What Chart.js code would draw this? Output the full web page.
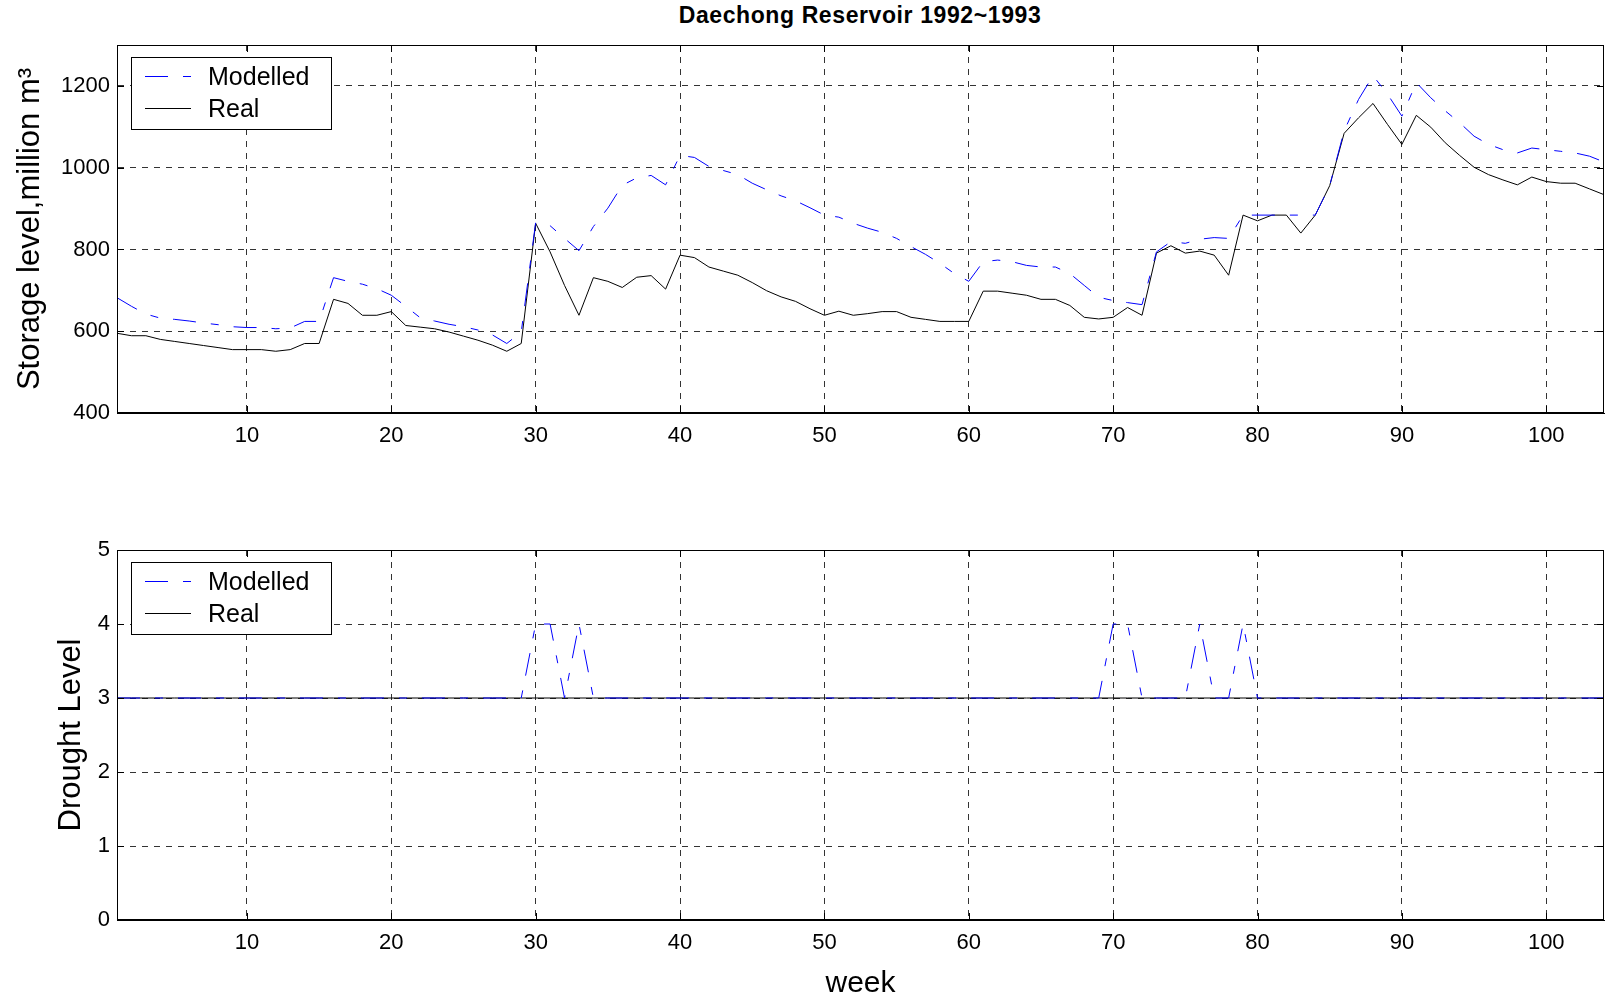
<!DOCTYPE html>
<html>
<head>
<meta charset="utf-8">
<script src="https://cdn.jsdelivr.net/npm/chart.js"></script>
<style>
  body { margin: 0; background: #fff; width: 1606px; height: 997px; overflow: hidden; position: relative; }
  #title { position: absolute; left: 0; top: 2px; width: 1720px; text-align: center;
           font: bold 23px "Liberation Sans", Arial, sans-serif; letter-spacing: 0.6px; color: #000; }
  canvas { position: absolute; left: 0; }
  #top { top: 0; }
  #bottom { top: 460px; }
</style>
</head>
<body>
<div id="title">Daechong Reservoir 1992~1993</div>
<canvas id="top" width="1606" height="460"></canvas>
<canvas id="bottom" width="1606" height="543"></canvas>
<script>
const weeks = [
  1, 2, 3, 4, 5, 6, 7, 8, 9, 10, 11, 12, 13, 14, 15, 16, 17, 18, 19, 20, 21, 22, 23, 24, 25, 26,
  27, 28, 29, 30, 31, 32, 33, 34, 35, 36, 37, 38, 39, 40, 41, 42, 43, 44, 45, 46, 47, 48, 49, 50, 51, 52,
  53, 54, 55, 56, 57, 58, 59, 60, 61, 62, 63, 64, 65, 66, 67, 68, 69, 70, 71, 72, 73, 74, 75, 76, 77, 78,
  79, 80, 81, 82, 83, 84, 85, 86, 87, 88, 89, 90, 91, 92, 93, 94, 95, 96, 97, 98, 99, 100, 101, 102, 103, 104
];

// storage, million m3
const modelledStorage = [
  682, 661, 642, 632, 629, 625, 620, 616, 611, 609, 609, 606, 608, 624, 624, 731, 722, 715, 704, 688, 661, 633, 625, 617, 611, 603,
  591, 570, 598, 866, 858, 827, 797, 856, 901, 957, 975, 981, 958, 1030, 1025, 1003, 993, 983, 962, 946, 931, 919, 902, 884, 879, 864,
  852, 842, 827, 807, 788, 766, 741, 722, 770, 774, 770, 761, 757, 757, 741, 712, 683, 675, 670, 665, 794, 819, 815, 825, 829, 827,
  884, 884, 884, 884, 884, 884, 956, 1090, 1167, 1225, 1180, 1126, 1208, 1171, 1139, 1110, 1077, 1057, 1044, 1036, 1048, 1044, 1040, 1036, 1028, 1014
];
const realStorage = [
  595, 589, 589, 580, 575, 570, 565, 560, 555, 555, 555, 551, 555, 570, 570, 678, 668, 639, 639, 648, 614, 610, 606, 598, 588, 578,
  566, 551, 570, 864, 794, 712, 639, 731, 722, 707, 732, 736, 703, 786, 780, 757, 747, 737, 719, 699, 684, 673, 655, 639, 649, 639,
  643, 648, 648, 634, 629, 624, 624, 624, 698, 698, 693, 688, 678, 678, 663, 634, 630, 634, 658, 639, 791, 809, 791, 796, 786, 737,
  884, 870, 884, 884, 840, 884, 956, 1084, 1122, 1157, 1106, 1057, 1128, 1099, 1061, 1030, 1001, 983, 970, 958, 977, 966, 962, 962, 948, 934
];

// drought level
const modelledDrought = [
  3, 3, 3, 3, 3, 3, 3, 3, 3, 3, 3, 3, 3, 3, 3, 3, 3, 3, 3, 3, 3, 3, 3, 3, 3, 3,
  3, 3, 3, 4, 4, 3, 4, 3, 3, 3, 3, 3, 3, 3, 3, 3, 3, 3, 3, 3, 3, 3, 3, 3, 3, 3,
  3, 3, 3, 3, 3, 3, 3, 3, 3, 3, 3, 3, 3, 3, 3, 3, 3, 4, 4, 3, 3, 3, 3, 4, 3, 3,
  4, 3, 3, 3, 3, 3, 3, 3, 3, 3, 3, 3, 3, 3, 3, 3, 3, 3, 3, 3, 3, 3, 3, 3, 3, 3
];
const realDrought = [
  3, 3, 3, 3, 3, 3, 3, 3, 3, 3, 3, 3, 3, 3, 3, 3, 3, 3, 3, 3, 3, 3, 3, 3, 3, 3,
  3, 3, 3, 3, 3, 3, 3, 3, 3, 3, 3, 3, 3, 3, 3, 3, 3, 3, 3, 3, 3, 3, 3, 3, 3, 3,
  3, 3, 3, 3, 3, 3, 3, 3, 3, 3, 3, 3, 3, 3, 3, 3, 3, 3, 3, 3, 3, 3, 3, 3, 3, 3,
  3, 3, 3, 3, 3, 3, 3, 3, 3, 3, 3, 3, 3, 3, 3, 3, 3, 3, 3, 3, 3, 3, 3, 3, 3, 3
];

const weekTicks = [10, 20, 30, 40, 50, 60, 70, 80, 90, 100];
const storageTicks = [400, 600, 800, 1000, 1200];
const droughtTicks = [0, 1, 2, 3, 4, 5];
const seriesNames = ['Modelled', 'Real'];

const FONT = '"Liberation Sans", Arial, sans-serif';
Chart.defaults.font.family = FONT;
Chart.defaults.color = '#000';

const MODEL_DASH = [23, 15, 8, 15];

function toPoints(ys) {
  return ys.map((y, i) => ({ x: weeks[i], y: y }));
}

// box around the axes, inward tick marks and a legend in the upper left corner
const matlabAxes = {
  id: 'matlabAxes',
  afterDraw(chart) {
    const { ctx, chartArea: a, scales } = chart;
    ctx.save();
    ctx.strokeStyle = '#000';
    ctx.lineWidth = 1;
    ctx.setLineDash([]);
    ctx.strokeRect(a.left + 0.5, a.top + 0.5, a.right - a.left - 1, a.bottom - a.top - 1);
    const tl = 7;
    ctx.beginPath();
    scales.x.ticks.forEach(t => {
      const px = Math.round(scales.x.getPixelForValue(t.value)) + 0.5;
      ctx.moveTo(px, a.bottom); ctx.lineTo(px, a.bottom - tl);
      ctx.moveTo(px, a.top); ctx.lineTo(px, a.top + tl);
    });
    scales.y.ticks.forEach(t => {
      const py = Math.round(scales.y.getPixelForValue(t.value)) + 0.5;
      ctx.moveTo(a.left, py); ctx.lineTo(a.left + tl, py);
      ctx.moveTo(a.right, py); ctx.lineTo(a.right - tl, py);
    });
    ctx.stroke();

    // legend
    const bx = a.left + 14, by = a.top + 12, bw = 200, bh = 72;
    ctx.fillStyle = '#fff';
    ctx.fillRect(bx, by, bw, bh);
    ctx.strokeRect(bx + 0.5, by + 0.5, bw, bh);
    ctx.font = '25px ' + FONT;
    ctx.textBaseline = 'middle';
    chart.data.datasets.forEach((ds, i) => {
      const y = by + 19 + i * 32 + 0.5;
      ctx.strokeStyle = ds.borderColor;
      ctx.setLineDash(ds.borderDash || []);
      ctx.beginPath();
      ctx.moveTo(bx + 14, y); ctx.lineTo(bx + 60, y);
      ctx.stroke();
      ctx.setLineDash([]);
      ctx.fillStyle = '#000';
      ctx.fillText(ds.label, bx + 77, y + 2);
    });
    ctx.restore();
  }
};

function makeChart(canvasId, opts) {
  return new Chart(document.getElementById(canvasId), {
    type: 'line',
    data: {
      datasets: [
        { label: seriesNames[0], data: toPoints(opts.modelled), borderColor: '#0000ff', borderWidth: 1,
          borderDash: MODEL_DASH, pointRadius: 0, tension: 0, fill: false },
        { label: seriesNames[1], data: toPoints(opts.real), borderColor: '#000000', borderWidth: 1,
          pointRadius: 0, tension: 0, fill: false }
      ]
    },
    options: {
      responsive: false,
      animation: false,
      events: [],
      layout: { padding: { top: opts.padTop, right: 2, left: 0, bottom: 0 } },
      plugins: { legend: { display: false }, tooltip: { enabled: false } },
      scales: {
        x: {
          type: 'linear', min: 1, max: 104,
          afterBuildTicks: s => { s.ticks = weekTicks.map(v => ({ value: v })); },
          afterFit: s => { s.height = opts.xHeight; },
          ticks: { font: { size: 22 }, padding: 10, maxRotation: 0, autoSkip: false,
                   callback: v => String(v) },
          grid: { color: '#333', lineWidth: 1, drawTicks: false },
          border: { display: true, color: '#000', dash: [6, 6] },
          title: { display: !!opts.xTitle, text: opts.xTitle || '', font: { size: 30 }, padding: { top: 0, bottom: 1 } }
        },
        y: {
          min: opts.yMin, max: opts.yMax,
          afterBuildTicks: s => { s.ticks = opts.yTicks.map(v => ({ value: v })); },
          afterFit: s => { s.width = 117; },
          ticks: { font: { size: 22 }, padding: 7, callback: v => String(v) },
          grid: { color: '#333', lineWidth: 1, drawTicks: false },
          border: { display: true, color: '#000', dash: [6, 6] },
          title: { display: true, text: opts.yTitle, font: { size: 31 }, padding: { top: opts.yTitlePad, bottom: 0 } }
        }
      }
    },
    plugins: [matlabAxes]
  });
}

makeChart('top', {
  modelled: modelledStorage, real: realStorage,
  yMin: 400, yMax: 1300, yTicks: storageTicks,
  yTitle: 'Storage level,million m\u00B3', yTitlePad: 12,
  padTop: 45, xHeight: 47
});

makeChart('bottom', {
  modelled: modelledDrought, real: realDrought,
  yMin: 0, yMax: 5, yTicks: droughtTicks,
  yTitle: 'Drought Level', yTitlePad: 53,
  xTitle: 'week',
  padTop: 90, xHeight: 83
});
</script>
</body>
</html>
